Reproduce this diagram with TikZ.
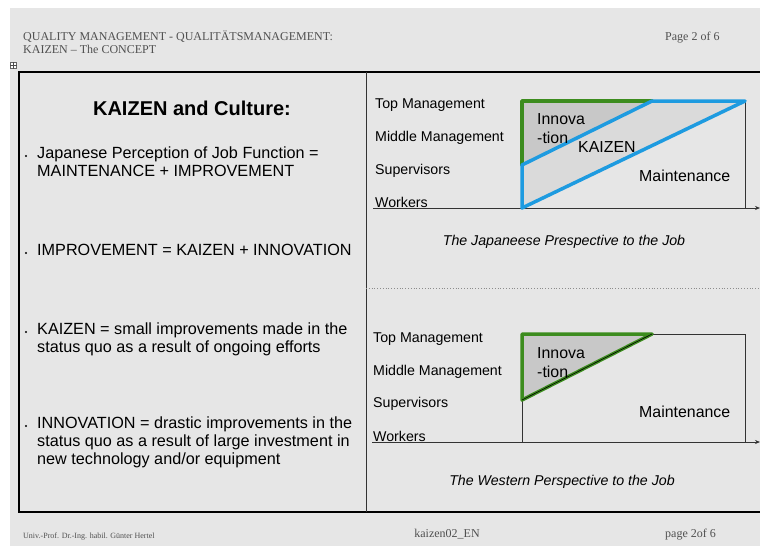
\documentclass[tikz,border=0pt]{standalone}
\usepackage{fontspec}
\setmainfont{Liberation Serif}
\setsansfont{Liberation Sans}
\usetikzlibrary{arrows.meta}
\definecolor{bg}{HTML}{E6E6E6}
\definecolor{hdr}{HTML}{505050}
\definecolor{kgreen}{HTML}{3C8C1E}
\definecolor{kblue}{HTML}{1E9BE0}
\definecolor{innofill}{HTML}{C8C8C8}
\definecolor{kaizfill}{HTML}{DADADA}
\tikzset{
  hdrtext/.style={inner sep=0pt, anchor=base west, text=hdr, font=\fontsize{12}{14}\selectfont\rmfamily},
  body/.style={inner sep=0pt, anchor=base west, font=\fontsize{16.2}{18}\selectfont\sffamily},
  lbl/.style={inner sep=0pt, anchor=base west, font=\fontsize{14.2}{16}\selectfont\sffamily},
  inlbl/.style={inner sep=0pt, anchor=base west, font=\fontsize{15.9}{18}\selectfont\sffamily},
  captext/.style={inner sep=0pt, anchor=base, font=\fontsize{14.2}{16}\selectfont\sffamily\itshape},
  frame/.style={draw=black, line width=1.5pt},
  axis/.style={draw=black!80, line width=0.7pt, -{Stealth[length=5pt,width=4pt]}},
  thin/.style={draw=black!80, line width=0.6pt},
  greenline/.style={draw=kgreen, line width=3.5pt, line join=round, line cap=round},
  blueline/.style={draw=kblue, line width=3.5pt, line join=round, line cap=round},
}
\begin{document}
\begin{tikzpicture}[x=1pt,y=-1pt]
\useasboundingbox (0,0) rectangle (760,550);
\fill[white] (0,0) rectangle (760,550);
\fill[bg] (10,8) rectangle (760,546);

% header
\node[hdrtext] (h1) at (23,40) {QUALITY MANAGEMENT - QUALITÄTSMANAGEMENT:};
\node[hdrtext] (h2) at (23,53) {KAIZEN -- The CONCEPT};
\node[hdrtext] (pg) at (665,40) {Page 2 of 6};
\node[draw=black!60, fill=white, minimum size=6pt, inner sep=0pt, line width=0.4pt] (ic) at (13.5,65.5) {};
\draw[black!70, line width=0.4pt] (ic.north) -- (ic.south) (ic.west) -- (ic.east);

% frame
\coordinate (tl) at (19,72);
\coordinate (tr) at (760,72);
\coordinate (bl) at (19,512);
\coordinate (br) at (760,512);
\coordinate (mt) at (366,72);
\coordinate (mb) at (366,512);
\draw[frame] (tr) -- (tl) -- (bl) -- (br);
\draw[thin, line width=0.8pt] (mt) -- (mb);
\coordinate (dl) at (366,288);
\coordinate (dr) at (760,288);
\draw[black!45, line width=0.8pt, dotted] (dl) -- (dr);

% left column
\node[inner sep=0pt, anchor=base, font=\fontsize{20}{24}\selectfont\sffamily\bfseries] (title) at (192,115) {KAIZEN and Culture:};
\foreach \y in {156,253,332,426}{\fill (26,\y) circle (1.2pt);}
\node[body] (b1a) at (37,158) {Japanese Perception of Job Function =};
\node[body] (b1b) at (37,176) {MAINTENANCE + IMPROVEMENT};
\node[body] (b2) at (37,255) {IMPROVEMENT = KAIZEN + INNOVATION};
\node[body] (b3a) at (37,334) {KAIZEN = small improvements made in the};
\node[body] (b3b) at (37,352) {status quo as a result of ongoing efforts};
\node[body] (b4a) at (37,428) {INNOVATION = drastic improvements in the};
\node[body] (b4b) at (37,446) {status quo as a result of large investment in};
\node[body] (b4c) at (37,464) {new technology and/or equipment};

% top chart
\node[lbl] (t1) at (375,108) {Top Management};
\node[lbl] (t2) at (375,141) {Middle Management};
\node[lbl] (t3) at (375,174) {Supervisors};
\node[lbl] (t4) at (375,207) {Workers};
\coordinate (ja0) at (373,208);
\coordinate (ja1) at (760,208);
\coordinate (jA) at (522,208);
\coordinate (jB) at (522,165);
\coordinate (jC) at (522,101);
\coordinate (jD) at (652,101);
\coordinate (jE) at (745,101);
\coordinate (jF) at (745,208);
\fill[kaizfill] (jA) -- (jB) -- (jD) -- (jE) -- cycle;
\fill[innofill] (jC) -- (jD) -- (jB) -- cycle;
\draw[thin] (jE) -- (jF);
\draw[axis] (ja0) -- (ja1);
\draw[greenline] (jB) -- (jC) -- (jD);
\draw[blueline] (jA) -- (jB) -- (jD) -- (jE) -- cycle;
\node[inlbl] (ji1) at (537,124) {Innova};
\node[inlbl] (ji2) at (537,143) {-tion};
\node[inlbl] (jk) at (578,152) {KAIZEN};
\node[inlbl] (jm) at (639,181) {Maintenance};
\node[captext] (jc) at (564,245) {The Japaneese Prespective to the Job};

% bottom chart
\node[lbl] (w1) at (373,342) {Top Management};
\node[lbl] (w2) at (373,375) {Middle Management};
\node[lbl] (w3) at (373,407) {Supervisors};
\node[lbl] (w4) at (373,441) {Workers};
\coordinate (wa0) at (372,442);
\coordinate (wa1) at (760,442);
\coordinate (wA) at (522,442);
\coordinate (wB) at (522,400);
\coordinate (wC) at (522,334);
\coordinate (wD) at (652,334);
\coordinate (wE) at (745,334);
\coordinate (wF) at (745,442);
\fill[innofill] (wC) -- (wD) -- (wB) -- cycle;
\draw[thin] (wA) -- (wB) (wD) -- (wE) -- (wF);
\draw[axis] (wa0) -- (wa1);
\draw[greenline] (wB) -- (wC) -- (wD) -- cycle;
\draw[black, line width=0.6pt] (wB) -- (wD);
\node[inlbl] (wi1) at (537,358) {Innova};
\node[inlbl] (wi2) at (537,377) {-tion};
\node[inlbl] (wm) at (639,417) {Maintenance};
\node[captext] (wc) at (562,485) {The Western Perspective to the Job};

% footer
\node[hdrtext, font=\fontsize{8}{9}\selectfont\rmfamily] (f1) at (23,538) {Univ.-Prof. Dr.-Ing. habil. Günter Hertel};
\node[hdrtext, anchor=base] (f2) at (447,537) {kaizen02\_EN};
\node[hdrtext] (f3) at (665,537) {page 2of 6};
\end{tikzpicture}
\end{document}
